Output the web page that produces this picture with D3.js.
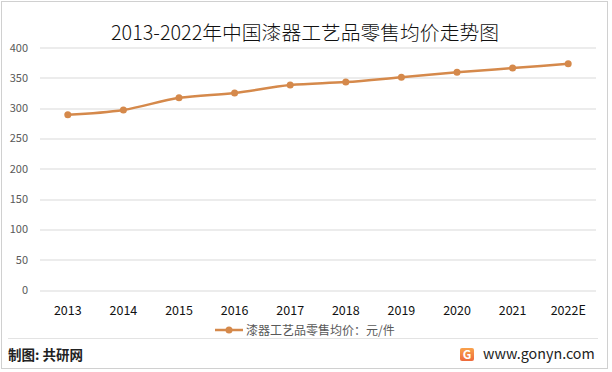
<!DOCTYPE html>
<html>
<head>
<meta charset="utf-8">
<script src="https://cdn.jsdelivr.net/npm/d3@7"></script>
<style>
  body { margin: 0; background: #fff; }
  svg { display: block; }
</style>
</head>
<body>
<script>
var years = ["2013", "2014", "2015", "2016", "2017", "2018", "2019", "2020", "2021", "2022E"];
var prices = [289, 297, 317, 325, 338, 343, 351, 359, 366, 373];
var yTicks = [0, 50, 100, 150, 200, 250, 300, 350, 400];

var W = 612, H = 372;
var margin = { top: 47.5, right: 16, bottom: 82, left: 40 };
var width = W - margin.left - margin.right,
    height = H - margin.top - margin.bottom;

var lineColor = "#D5894B";
var font = "'Noto Sans CJK SC', 'Noto Sans', sans-serif";

var svg = d3.select("body").append("svg")
    .attr("width", W)
    .attr("height", H)
    .style("font-family", font);

// outer frame
svg.append("rect")
    .attr("x", 1.5).attr("y", 1.5)
    .attr("width", W - 6).attr("height", H - 5)
    .attr("fill", "none")
    .attr("stroke", "#d0d0d0");

svg.append("text")
    .attr("x", 305)
    .attr("y", 40)
    .attr("text-anchor", "middle")
    .attr("font-size", "19.8px")
    .attr("font-weight", 300)
    .attr("fill", "#111")
    .text("2013-2022年中国漆器工艺品零售均价走势图");

var g = svg.append("g")
    .attr("transform", "translate(" + margin.left + "," + margin.top + ")");

var x = d3.scaleBand().domain(years).range([0, width]);
var y = d3.scaleLinear().domain([0, 400]).range([height, 0]);

// grid
g.append("g")
    .selectAll("line")
    .data(yTicks)
    .enter().append("line")
    .attr("x1", 0).attr("x2", width)
    .attr("y1", function(d) { return Math.round(y(d)) + 0.5; })
    .attr("y2", function(d) { return Math.round(y(d)) + 0.5; })
    .attr("stroke", "#d9d9d9");

var yAxis = g.append("g")
    .call(d3.axisLeft(y).tickValues(yTicks).tickSize(0).tickPadding(12));
yAxis.select(".domain").remove();
yAxis.selectAll("text")
    .attr("font-size", "11px")
    .attr("fill", "#595959")
    .style("font-family", font);

var xAxis = g.append("g")
    .attr("transform", "translate(0," + height + ")")
    .call(d3.axisBottom(x).tickSize(0).tickPadding(16));
xAxis.select(".domain").remove();
xAxis.selectAll("text")
    .attr("font-size", "12.5px")
    .attr("fill", "#111")
    .style("font-family", font);

var line = d3.line()
    .x(function(d, i) { return x(years[i]) + x.bandwidth() / 2; })
    .y(function(d) { return y(d); })
    .curve(d3.curveMonotoneX);

g.append("path")
    .datum(prices)
    .attr("d", line)
    .attr("fill", "none")
    .attr("stroke", lineColor)
    .attr("stroke-width", 2.5)
    .attr("stroke-linecap", "round");

g.selectAll(".dot")
    .data(prices)
    .enter().append("circle")
    .attr("class", "dot")
    .attr("cx", function(d, i) { return x(years[i]) + x.bandwidth() / 2; })
    .attr("cy", function(d) { return y(d); })
    .attr("r", 3.5)
    .attr("fill", lineColor);

// legend
var lg = svg.append("g").attr("transform", "translate(215,330)");
lg.append("line")
    .attr("x1", 0).attr("x2", 28)
    .attr("stroke", lineColor).attr("stroke-width", 2.5);
lg.append("circle").attr("cx", 14).attr("r", 3.5).attr("fill", lineColor);
lg.append("text")
    .attr("x", 31).attr("y", 4.5)
    .attr("font-size", "12px")
    .attr("fill", "#595959")
    .text("漆器工艺品零售均价：元/件");

// separator and footer
svg.append("line")
    .attr("x1", 8).attr("x2", 598)
    .attr("y1", 338.5).attr("y2", 338.5)
    .attr("stroke", "#e3e3e3");

svg.append("text")
    .attr("x", 8).attr("y", 360)
    .attr("font-size", "13.5px")
    .attr("font-weight", "bold")
    .attr("fill", "#222")
    .text("制图: 共研网");

var grad = svg.append("defs").append("linearGradient")
    .attr("id", "logoGrad")
    .attr("x1", 0).attr("y1", 0).attr("x2", 0).attr("y2", 1);
grad.append("stop").attr("offset", "0%").attr("stop-color", "#F9A24C");
grad.append("stop").attr("offset", "100%").attr("stop-color", "#EE6A3C");

var logo = svg.append("g").attr("transform", "translate(460,348)");
logo.append("rect")
    .attr("width", 14).attr("height", 13).attr("rx", 2)
    .attr("fill", "url(#logoGrad)");
logo.append("text")
    .attr("x", 7).attr("y", 11)
    .attr("text-anchor", "middle")
    .attr("font-size", "12px")
    .attr("font-weight", "bold")
    .attr("fill", "#fff")
    .text("G");
logo.append("text")
    .attr("x", 23).attr("y", 11)
    .attr("font-size", "14.3px")
    .attr("fill", "#222")
    .text("www.gonyn.com");
</script>
</body>
</html>
